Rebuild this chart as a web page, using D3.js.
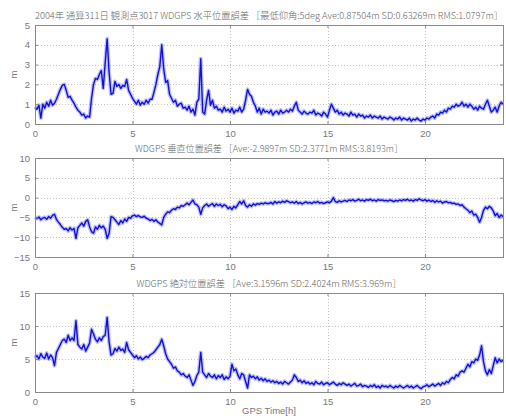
<!DOCTYPE html>
<html><head><meta charset="utf-8">
<script src="https://cdn.jsdelivr.net/npm/d3@7"></script>
<style>body{margin:0;background:#fff;overflow:hidden}</style>
</head><body>
<svg id="c" width="506" height="418"></svg>
<script>
// ---- data (one value every 0.1 h) ----
const sampleStepHours = 0.1;

const horizontalError = [
 0.85,0.75,0.95,0.3,1.0,0.8,1.1,0.9,1.2,0.95,
 1.05,1.25,1.5,1.75,1.95,2.0,1.7,1.35,1.4,1.2,
 1.05,0.85,0.7,0.6,0.45,0.5,0.3,0.4,0.35,1.3,
 2.0,2.3,2.25,2.5,2.7,1.8,3.1,4.3,2.6,1.5,
 1.55,2.15,1.9,2.0,1.8,1.95,1.9,2.25,1.7,1.5,
 1.3,1.15,1.0,1.2,0.95,1.1,1.0,1.2,1.05,1.25,
 1.25,1.6,2.0,2.5,2.9,4.0,2.8,2.1,2.2,1.5,
 1.3,1.1,1.2,0.9,1.0,1.05,0.8,0.85,0.7,0.9,
 0.6,0.75,0.45,1.1,1.25,3.3,0.6,0.5,1.2,1.7,
 0.95,1.2,0.8,0.9,0.7,0.75,0.6,0.85,0.65,0.75,
 0.6,0.8,0.55,0.7,0.65,0.85,0.6,0.75,1.2,1.75,
 1.5,1.4,1.1,0.9,0.6,0.8,0.5,0.75,0.6,0.65,
 0.55,0.7,0.45,0.6,0.65,0.5,0.7,0.55,0.6,0.7,
 0.6,0.75,0.65,0.9,1.1,0.7,0.6,0.5,0.65,0.55,
 0.5,0.6,0.55,0.7,0.45,0.55,0.5,0.4,0.6,0.5,
 0.35,0.7,1.0,0.8,0.6,0.7,0.5,0.6,0.45,0.55,
 0.5,0.4,0.6,0.45,0.5,0.35,0.5,0.4,0.45,0.3,
 0.4,0.35,0.45,0.3,0.4,0.35,0.3,0.4,0.25,0.35,
 0.3,0.25,0.35,0.3,0.2,0.3,0.25,0.35,0.2,0.3,
 0.25,0.2,0.3,0.15,0.25,0.2,0.3,0.2,0.15,0.25,
 0.2,0.3,0.25,0.35,0.4,0.3,0.5,0.45,0.6,0.55,
 0.7,0.6,0.8,0.75,0.9,0.85,1.0,0.9,0.95,1.1,
 0.9,1.0,0.85,1.0,0.9,0.75,0.85,0.7,0.9,0.8,
 0.75,1.0,1.2,0.9,0.6,0.7,0.85,0.6,0.9,1.1,
 1.0
];

const verticalError = [
 -5.0,-5.3,-4.9,-5.6,-5.2,-5.0,-5.5,-4.8,-5.2,-4.5,
 -4.2,-5.5,-6.2,-6.8,-7.5,-8.0,-7.8,-8.4,-7.6,-8.2,
 -7.8,-10.3,-7.6,-7.0,-6.4,-7.2,-6.0,-5.6,-7.4,-8.6,
 -9.0,-7.4,-8.0,-7.0,-7.6,-7.2,-8.0,-10.3,-9.0,-4.8,
 -5.0,-5.6,-6.2,-6.8,-5.8,-6.4,-5.4,-6.0,-5.0,-5.2,
 -4.6,-4.4,-4.8,-4.5,-4.9,-5.0,-4.7,-5.2,-5.4,-5.8,
 -5.5,-6.0,-5.6,-6.2,-6.5,-6.9,-5.0,-4.2,-3.6,-3.8,
 -3.2,-2.8,-3.0,-2.4,-2.6,-2.0,-2.2,-1.8,-1.4,-1.8,
 -1.2,-0.6,-1.6,-1.8,-2.4,-4.2,-2.6,-2.0,-1.6,-2.2,
 -1.8,-1.5,-2.2,-1.6,-2.0,-1.7,-2.3,-1.8,-2.1,-2.8,
 -2.4,-3.0,-2.2,-2.6,-1.8,-1.0,-1.6,-0.8,-2.0,-2.4,
 -1.8,-2.2,-1.6,-1.9,-1.5,-1.7,-1.4,-1.6,-1.3,-1.5,
 -1.5,-1.2,-1.6,-1.0,-1.4,-1.1,-1.3,-0.9,-1.2,-0.8,
 -1.0,-1.3,-1.1,-1.4,-1.0,-1.5,-1.2,-1.6,-1.3,-1.1,
 -1.4,-1.2,-1.5,-1.1,-1.3,-1.0,-1.4,-1.2,-1.5,-1.3,
 -1.1,-1.3,-0.9,0.0,-1.0,-1.2,-0.8,-1.1,-0.9,-0.7,
 -1.0,-0.6,-0.8,-0.5,-0.9,-0.7,-0.4,-0.8,-0.6,-0.9,
 -0.5,-0.7,-0.4,-0.8,-0.6,-0.9,-0.5,-0.7,-0.6,-0.8,
 -0.7,-0.9,-0.6,-0.8,-1.0,-0.7,-0.9,-0.6,-0.8,-0.5,
 -0.7,-0.4,-0.8,-0.6,-0.9,-0.5,-0.7,-0.3,-0.6,-0.8,
 -0.5,-0.9,-0.6,-1.0,-0.7,-1.2,-0.8,-1.1,-0.9,-1.4,
 -1.1,-1.0,-1.3,-1.2,-1.5,-1.4,-1.7,-1.6,-2.0,-1.8,
 -2.4,-2.8,-3.2,-3.8,-3.4,-4.4,-4.2,-5.0,-6.2,-5.0,
 -3.2,-2.4,-2.8,-2.2,-2.6,-3.4,-4.6,-4.0,-5.0,-4.4,
 -4.8
];

const absoluteError = [
 5.2,5.5,5.0,5.8,5.3,5.1,5.9,5.0,5.6,5.2,
 4.0,6.0,6.6,7.2,7.8,8.0,7.5,8.6,7.8,8.2,
 7.8,10.8,7.2,6.8,6.5,7.2,6.2,6.8,7.4,9.5,
 8.8,8.0,7.6,8.2,7.8,8.4,8.6,11.3,7.6,5.6,
 5.8,6.6,6.2,6.8,6.3,6.5,6.0,7.5,6.4,6.0,
 5.6,5.2,5.5,5.0,5.3,4.9,5.1,5.4,5.2,5.6,
 5.8,6.0,6.4,6.8,7.2,8.0,7.0,5.8,5.0,4.6,
 4.2,3.6,3.8,3.2,3.0,2.6,2.8,2.4,2.2,2.6,
 1.8,1.0,1.6,2.5,3.0,6.0,3.0,2.6,2.2,2.8,
 2.4,2.2,2.6,2.0,2.5,2.2,2.6,1.9,2.3,2.0,
 2.4,4.2,3.2,3.5,2.6,2.0,2.8,2.6,1.6,0.6,
 2.6,2.2,2.4,2.0,2.3,1.8,2.1,1.7,2.0,1.6,
 1.8,1.5,1.7,1.4,1.6,1.3,1.5,1.2,1.6,1.4,
 1.2,1.5,1.8,2.6,2.2,1.6,1.8,1.4,1.7,1.3,
 1.5,1.2,1.4,1.1,1.6,1.3,1.2,1.5,1.1,1.3,
 1.4,1.1,1.3,1.5,1.2,1.0,1.3,1.1,1.4,1.2,
 1.0,1.2,0.9,1.1,1.3,0.9,1.0,1.2,0.8,1.0,
 0.9,0.7,1.0,0.8,1.1,0.7,0.9,0.6,1.0,0.8,
 0.9,0.7,1.0,0.8,0.6,0.9,0.7,1.0,0.8,0.6,
 0.8,1.0,0.7,0.9,0.6,0.8,1.0,0.7,0.5,0.8,
 0.9,1.1,0.8,1.0,1.2,0.9,1.1,1.3,1.0,1.4,
 1.2,1.6,1.4,1.9,2.2,2.0,2.6,2.4,3.0,3.2,
 3.0,3.6,4.2,3.8,4.6,4.4,5.0,4.8,5.6,7.0,
 4.6,3.2,2.6,3.4,2.8,4.0,5.2,4.4,5.0,4.6,
 4.8
];

const panelTitles = [
  "2004年 通算311日 観測点3017 WDGPS 水平位置誤差 ［最低仰角:5deg  Ave:0.87504m SD:0.63269m RMS:1.0797m］",
  "WDGPS 垂直位置誤差 ［Ave:-2.9897m SD:2.3771m RMS:3.8193m］",
  "WDGPS 絶対位置誤差 ［Ave:3.1596m SD:2.4024m RMS:3.969m］"
];
const yDomains = [[0, 5], [-15, 10], [0, 15]];
const yTickValues = [[0,1,2,3,4,5], [-15,-10,-5,0,5,10], [0,5,10,15]];
const xDomain = [0, 24];
const xTickValues = [0, 5, 10, 15, 20];
const yLabel = "m";
const xLabel = "GPS Time[h]";

// ---- drawing ----
const series = [horizontalError, verticalError, absoluteError];
const svg = d3.select("#c");
const left = 35, right = 503, plotH = 99;
const tops = [25, 158, 293];
const titleWidths = [468, 268, 265];
const tickFont = "Liberation Sans, Arial, sans-serif";
const cjkFont = "'Noto Sans CJK JP', 'Noto Sans', sans-serif";

const x = d3.scaleLinear().domain(xDomain).range([left, right]);

series.forEach((vals, i) => {
  const top = tops[i], bottom = top + plotH;
  const y = d3.scaleLinear().domain(yDomains[i]).range([bottom, top]);
  const g = svg.append("g");

  // grid
  g.append("g").selectAll("line").data(yTickValues[i].filter(v => v !== yDomains[i][0] && v !== yDomains[i][1]))
    .join("line").attr("x1", left).attr("x2", right)
    .attr("y1", d => Math.round(y(d)) + 0.5).attr("y2", d => Math.round(y(d)) + 0.5)
    .attr("stroke", "#c4c4c4").attr("stroke-width", 1).attr("stroke-dasharray", "1,2");
  g.append("g").selectAll("line").data(xTickValues.filter(v => v !== xDomain[0]))
    .join("line").attr("y1", top).attr("y2", bottom)
    .attr("x1", d => Math.round(x(d)) + 0.5).attr("x2", d => Math.round(x(d)) + 0.5)
    .attr("stroke", "#c4c4c4").attr("stroke-width", 1).attr("stroke-dasharray", "1,2");

  // data line
  const line = d3.line().x((d, k) => x(k * sampleStepHours)).y(d => y(d));
  g.append("path").datum(vals).attr("d", line).attr("fill", "none")
    .attr("stroke", "#7078ee").attr("stroke-width", 4).attr("stroke-opacity", 0.45)
    .attr("stroke-linejoin", "round");
  g.append("path").datum(vals).attr("d", line).attr("fill", "none")
    .attr("stroke", "#1010d8").attr("stroke-width", 1.4).attr("stroke-linejoin", "round");

  // axes (MATLAB style, ticks inside)
  const ax = g.append("g").attr("transform", `translate(0,${bottom})`)
    .call(d3.axisBottom(x).tickValues(xTickValues).tickFormat(d3.format("d")).tickSizeInner(-3).tickSizeOuter(0).tickPadding(6));
  const ay = g.append("g").attr("transform", `translate(${left},0)`)
    .call(d3.axisLeft(y).tickValues(yTickValues[i]).tickFormat(d3.format("d")).tickSizeInner(-3).tickSizeOuter(0).tickPadding(5));
  [ax, ay].forEach(a => {
    a.select(".domain").remove();
    a.selectAll(".tick line").attr("stroke", "#888");
    a.selectAll(".tick text").attr("fill", "#777").style("font-family", tickFont).style("font-size", "9.5px");
  });
  // top/right ticks
  g.append("g").attr("transform", `translate(0,${top})`)
    .call(d3.axisTop(x).tickValues(xTickValues).tickSizeInner(-3).tickSizeOuter(0).tickFormat(""))
    .call(a => { a.select(".domain").remove(); a.selectAll("line").attr("stroke", "#888"); });
  g.append("g").attr("transform", `translate(${right},0)`)
    .call(d3.axisRight(y).tickValues(yTickValues[i]).tickSizeInner(-3).tickSizeOuter(0).tickFormat(""))
    .call(a => { a.select(".domain").remove(); a.selectAll("line").attr("stroke", "#888"); });

  // box
  g.append("rect").attr("x", left + 0.5).attr("y", top + 0.5)
    .attr("width", right - left).attr("height", plotH)
    .attr("fill", "none").attr("stroke", "#8a8a8a").attr("stroke-width", 1);

  // y label
  g.append("text").attr("transform", `translate(17,${(top + bottom) / 2}) rotate(-90)`)
    .attr("text-anchor", "middle").attr("fill", "#777")
    .style("font-family", tickFont).style("font-size", "9.5px").text(yLabel);

  // title
  g.append("text").attr("x", (left + right) / 2).attr("y", top - 6)
    .attr("text-anchor", "middle").attr("fill", "#666")
    .attr("textLength", titleWidths[i]).attr("lengthAdjust", "spacingAndGlyphs")
    .style("font-family", cjkFont).style("font-weight", 300).style("font-size", "9px").text(panelTitles[i]);
});

svg.append("text").attr("x", (left + right) / 2).attr("y", 414)
  .attr("text-anchor", "middle").attr("fill", "#777")
  .style("font-family", tickFont).style("font-size", "9.5px").text(xLabel);
</script>
</body></html>
